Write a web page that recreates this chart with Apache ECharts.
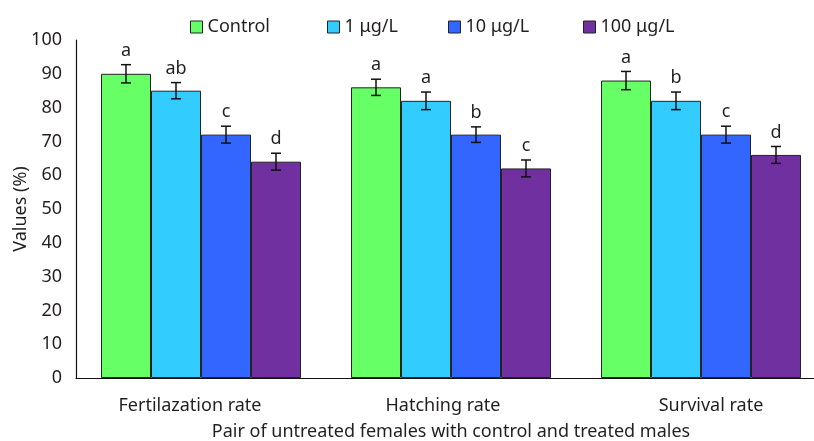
<!DOCTYPE html>
<html><head><meta charset="utf-8">
<script src="https://cdn.jsdelivr.net/npm/echarts@6/dist/echarts.min.js"></script>
<style>html,body{margin:0;padding:0;background:#fff}#c{width:814px;height:441px}</style>
</head><body><div id="c"></div>
<script>
var categories = ['Fertilazation rate', 'Hatching rate', 'Survival rate'];
var seriesNames = ['Control', '1 μg/L', '10 μg/L', '100 μg/L'];
var controlVals = [90, 86, 88];
var low1Vals = [85, 82, 82];
var mid10Vals = [72, 72, 72];
var high100Vals = [64, 62, 66];
var controlErr = [2.7, 2.4, 2.7];
var low1Err = [2.4, 2.6, 2.6];
var mid10Err = [2.5, 2.3, 2.5];
var high100Err = [2.5, 2.5, 2.5];
var controlLetters = ['a', 'a', 'a'];
var low1Letters = ['ab', 'a', 'b'];
var mid10Letters = ['c', 'b', 'c'];
var high100Letters = ['d', 'c', 'd'];
var yTicks = [0, 10, 20, 30, 40, 50, 60, 70, 80, 90, 100];

var values = [controlVals, low1Vals, mid10Vals, high100Vals];
var errs = [controlErr, low1Err, mid10Err, high100Err];
var letters = [controlLetters, low1Letters, mid10Letters, high100Letters];
var colors = ['#66ff66', '#33ccff', '#3366ff', '#7030a0'];
var FONT = 'Noto Sans';
var TXT = '#231f20';
var FS = 18;
var legendLefts = [190, 327, 448, 583];

var series = [];
values.forEach(function (v, i) {
  series.push({
    name: seriesNames[i], type: 'bar', data: v,
    barGap: '0%', barCategoryGap: '20%',
    itemStyle: { color: colors[i], borderColor: '#222', borderWidth: 1 },
    emphasis: { disabled: true }
  });
});
values.forEach(function (v, i) {
  series.push({
    type: 'custom', silent: true, z: 10,
    data: v.map(function (val, j) { return [j, val, errs[i][j]]; }),
    encode: { x: 0, y: 1 },
    renderItem: function (params, api) {
      var j = api.value(0), val = api.value(1), e = api.value(2);
      var let_ = letters[i][j];
      var catW = api.size([1, 0])[0];
      var bw = catW * 0.8 / 4;
      var c = api.coord([j, val]);
      var x = c[0] + (i - 1.5) * bw;
      var yt = api.coord([j, val + e])[1];
      var yb = api.coord([j, val - e])[1];
      var cap = 5;
      var st = { stroke: '#111', lineWidth: 1.5 };
      return { type: 'group', children: [
        { type: 'line', shape: { x1: x, y1: yt, x2: x, y2: yb }, style: st },
        { type: 'line', shape: { x1: x - cap, y1: yt, x2: x + cap, y2: yt }, style: st },
        { type: 'line', shape: { x1: x - cap, y1: yb, x2: x + cap, y2: yb }, style: st },
        { type: 'text', x: x, y: yt - 5, style: { text: let_, fill: TXT, font: FS + 'px "' + FONT + '"', align: 'center', verticalAlign: 'bottom' } }
      ] };
    }
  });
});

var legends = seriesNames.map(function (n, i) {
  return {
    data: [n], top: 18, left: legendLefts[i], padding: 0,
    icon: 'rect', itemWidth: 12, itemHeight: 12, itemGap: 0,
    itemStyle: { borderColor: '#222', borderWidth: 1 },
    textStyle: { fontSize: FS, color: TXT, fontFamily: FONT }
  };
});

var chart = echarts.init(document.getElementById('c'));
chart.setOption({
  animation: false,
  textStyle: { fontFamily: FONT, color: TXT },
  legend: legends,
  grid: { left: 76, top: 40, width: 750, height: 338, outerBoundsMode: 'none', containLabel: false },
  xAxis: {
    type: 'category', data: categories,
    axisLine: { lineStyle: { color: '#111', width: 1.2 } },
    axisTick: { show: false },
    axisLabel: {
      fontSize: FS, color: TXT, margin: 19, fontFamily: FONT,
      formatter: function (v, idx) { return '{c' + idx + '|' + v + '}'; },
      rich: {
        c0: { fontSize: FS, fontFamily: FONT, color: TXT, padding: [0, 22, 0, 0] },
        c1: { fontSize: FS, fontFamily: FONT, color: TXT, padding: [0, 16, 0, 0] },
        c2: { fontSize: FS, fontFamily: FONT, color: TXT, padding: [0, 0, 0, 20] }
      }
    },
    name: 'Pair of untreated females with control and treated males',
    nameLocation: 'middle', nameGap: 45, nameMoveOverlap: false,
    nameTextStyle: { fontSize: FS, color: TXT, fontFamily: FONT }
  },
  yAxis: {
    type: 'value', min: yTicks[0], max: yTicks[yTicks.length - 1], interval: 10,
    axisLine: { show: true, lineStyle: { color: '#111', width: 1.2 } },
    axisTick: { show: false },
    splitLine: { show: false },
    axisLabel: { fontSize: FS, color: TXT, margin: 14, fontFamily: FONT },
    name: 'Values (%)', nameLocation: 'middle', nameGap: 46, nameRotate: 90, nameMoveOverlap: false,
    nameTextStyle: { fontSize: FS, color: TXT, fontFamily: FONT }
  },
  series: series
});
</script></body></html>
